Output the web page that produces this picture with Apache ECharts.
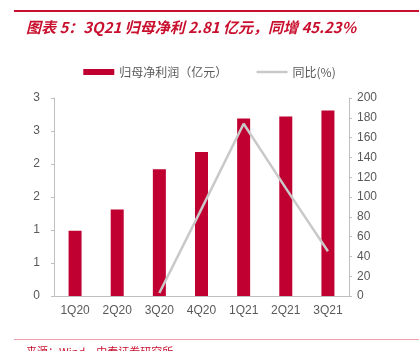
<!DOCTYPE html>
<head>
    <meta charset="utf-8">
    <title>归母净利</title>
    <script src="https://cdn.jsdelivr.net/npm/echarts@6/dist/echarts.min.js"></script>
    <style>
        body { margin: 0; background: #fff; }
    </style>
</head>
<body>
    <div id="main" style="width:419px;height:351px"></div>
    <script type="text/javascript">
        // 季度
        var quarters = ['1Q20', '2Q20', '3Q20', '4Q20', '1Q21', '2Q21', '3Q21'];
        // 归母净利润（亿元）
        var profit = [0.99, 1.31, 1.92, 2.18, 2.69, 2.72, 2.81];
        // 同比(%)
        var yoy = [null, null, 3, 88, 174, 109, 45.23];

        var myChart = echarts.init(document.getElementById('main'));
        var grey = '#595959';
        var axisGrey = '#bfbfbf';

        var option = {
            animation: false,
            title: {
                text: '图表 5：3Q21 归母净利 2.81 亿元，同增 45.23%',
                left: 21,
                top: 15,
                textStyle: {
                    color: '#c8102e',
                    fontSize: 15,
                    fontWeight: 'bold',
                    fontStyle: 'italic',
                    fontFamily: 'Noto Sans CJK SC'
                }
            },
            graphic: [
                { type: 'rect', shape: { x: 14, y: 10, width: 405, height: 2 }, style: { fill: '#c8102e' } },
                { type: 'rect', shape: { x: 14, y: 339, width: 405, height: 1 }, style: { fill: '#f0a0a8' } },
                {
                    type: 'text', left: 26, top: 346,
                    style: { text: '来源：Wind，中泰证券研究所', fill: '#c8102e', font: '11px "Noto Sans CJK SC"' }
                }
            ],
            legend: {
                top: 61,
                left: 'center',
                itemGap: 28,
                itemWidth: 31,
                itemHeight: 6,
                textStyle: { color: grey, fontSize: 12, fontFamily: 'Noto Sans CJK SC' },
                data: [
                    { name: '归母净利润（亿元）', icon: 'rect' },
                    { name: '同比(%)', itemStyle: { opacity: 0 }, lineStyle: { color: '#c9c9c9', width: 2.5 } }
                ]
            },
            grid: { left: 54, right: 70, top: 98, bottom: 55 },
            xAxis: {
                type: 'category',
                data: quarters,
                axisLine: { lineStyle: { color: axisGrey } },
                axisTick: { alignWithLabel: false, length: 4, lineStyle: { color: axisGrey } },
                axisLabel: { color: grey, fontSize: 12, margin: 9, fontFamily: 'Liberation Sans' }
            },
            yAxis: [
                {
                    type: 'value',
                    min: 0, max: 3, interval: 0.5,
                    splitLine: { show: false },
                    axisLine: { show: true, lineStyle: { color: axisGrey } },
                    axisTick: { show: true, length: 3, lineStyle: { color: axisGrey } },
                    axisLabel: {
                        color: grey, fontSize: 12, margin: 14, fontFamily: 'Liberation Sans',
                        formatter: function (v) { return Math.round(v); }
                    }
                },
                {
                    type: 'value',
                    min: 0, max: 200, interval: 20,
                    splitLine: { show: false },
                    axisLine: { show: true, lineStyle: { color: axisGrey } },
                    axisTick: { show: true, length: 3, lineStyle: { color: axisGrey } },
                    axisLabel: { color: grey, fontSize: 12, margin: 8, fontFamily: 'Liberation Sans' }
                }
            ],
            series: [
                {
                    name: '归母净利润（亿元）',
                    type: 'bar',
                    data: profit,
                    barWidth: 13,
                    itemStyle: { color: '#c00030' }
                },
                {
                    name: '同比(%)',
                    type: 'line',
                    yAxisIndex: 1,
                    data: yoy,
                    symbol: 'none',
                    lineStyle: { color: '#c9c9c9', width: 2.5 },
                    itemStyle: { color: '#c9c9c9' }
                }
            ]
        };
        myChart.setOption(option);
    </script>
</body>
